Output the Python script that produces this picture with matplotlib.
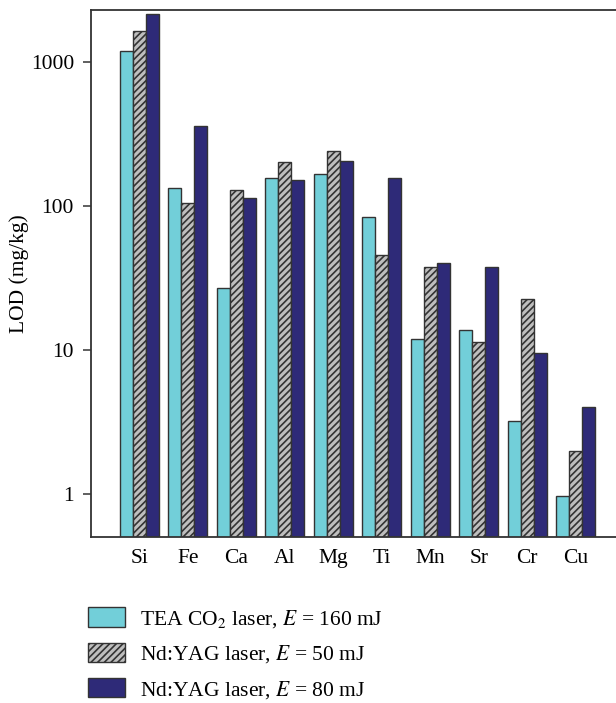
import numpy as np
import matplotlib
matplotlib.use("Agg")
import matplotlib.pyplot as plt
from matplotlib.patches import Patch

plt.rcParams['font.family'] = ['Liberation Serif', 'DejaVu Serif']
plt.rcParams['mathtext.fontset'] = 'stix'
plt.rcParams['hatch.linewidth'] = 1.2

elements = ["Si", "Fe", "Ca", "Al", "Mg", "Ti", "Mn", "Sr", "Cr", "Cu"]
tea_co2_160 = [1200, 134, 27, 156, 166, 84, 12.0, 13.8, 3.2, 0.97]
ndyag_50 = [1640, 105, 130, 203, 242, 46, 38, 11.4, 22.5, 2.0]
ndyag_80 = [2150, 362, 114, 152, 205, 156, 40.5, 37.5, 9.5, 4.05]

labels = [r"TEA CO$_2$ laser, $E$ = 160 mJ",
          r"Nd:YAG laser, $E$ = 50 mJ",
          r"Nd:YAG laser, $E$ = 80 mJ"]

cyan = "#72CFD9"
grey = "#BEBEBE"
navy = "#2E2A78"
edge = "#333333"
fs = 15.5

fig = plt.figure(figsize=(6.16, 7.03), dpi=100)
ax = fig.add_axes([0.1472, 0.2368, 0.8528, 0.749])

x = np.arange(len(elements))
w = 0.266
ax.bar(x - w, tea_co2_160, w, color=cyan, edgecolor=edge, linewidth=1.0)
ax.bar(x, ndyag_50, w, color=grey, edgecolor=edge, linewidth=1.0, hatch="/////")
ax.bar(x + w, ndyag_80, w, color=navy, edgecolor=edge, linewidth=1.0)

ax.set_yscale("log")
ax.set_ylim(0.507, 2297)
ax.set_xlim(-1.0, 9.83)
ax.set_yticks([1, 10, 100, 1000])
ax.set_yticklabels(["1", "10", "100", "1000"])
ax.yaxis.set_minor_locator(matplotlib.ticker.NullLocator())
ax.set_xticks(x)
ax.set_xticklabels(elements)
ax.tick_params(axis="x", length=0, pad=9, labelsize=fs)
ax.tick_params(axis="y", length=6, width=1.2, color="#444444", pad=6, labelsize=fs)
ax.set_ylabel("LOD (mg/kg)", fontsize=fs, labelpad=1)

for s in ["left", "bottom", "top"]:
    ax.spines[s].set_linewidth(1.3)
    ax.spines[s].set_color("#333333")
ax.spines["right"].set_visible(False)

handles = [Patch(facecolor=cyan, edgecolor=edge, linewidth=1.0),
           Patch(facecolor=grey, edgecolor=edge, linewidth=1.0, hatch="/////"),
           Patch(facecolor=navy, edgecolor=edge, linewidth=1.0)]
fig.legend(handles, labels, loc="upper left", bbox_to_anchor=(0.143, 0.136),
           frameon=False, fontsize=fs, handlelength=1.72, handleheight=1.0,
           handletextpad=0.7, labelspacing=0.6, borderaxespad=0, borderpad=0)

fig.savefig("out.png", dpi=100)
